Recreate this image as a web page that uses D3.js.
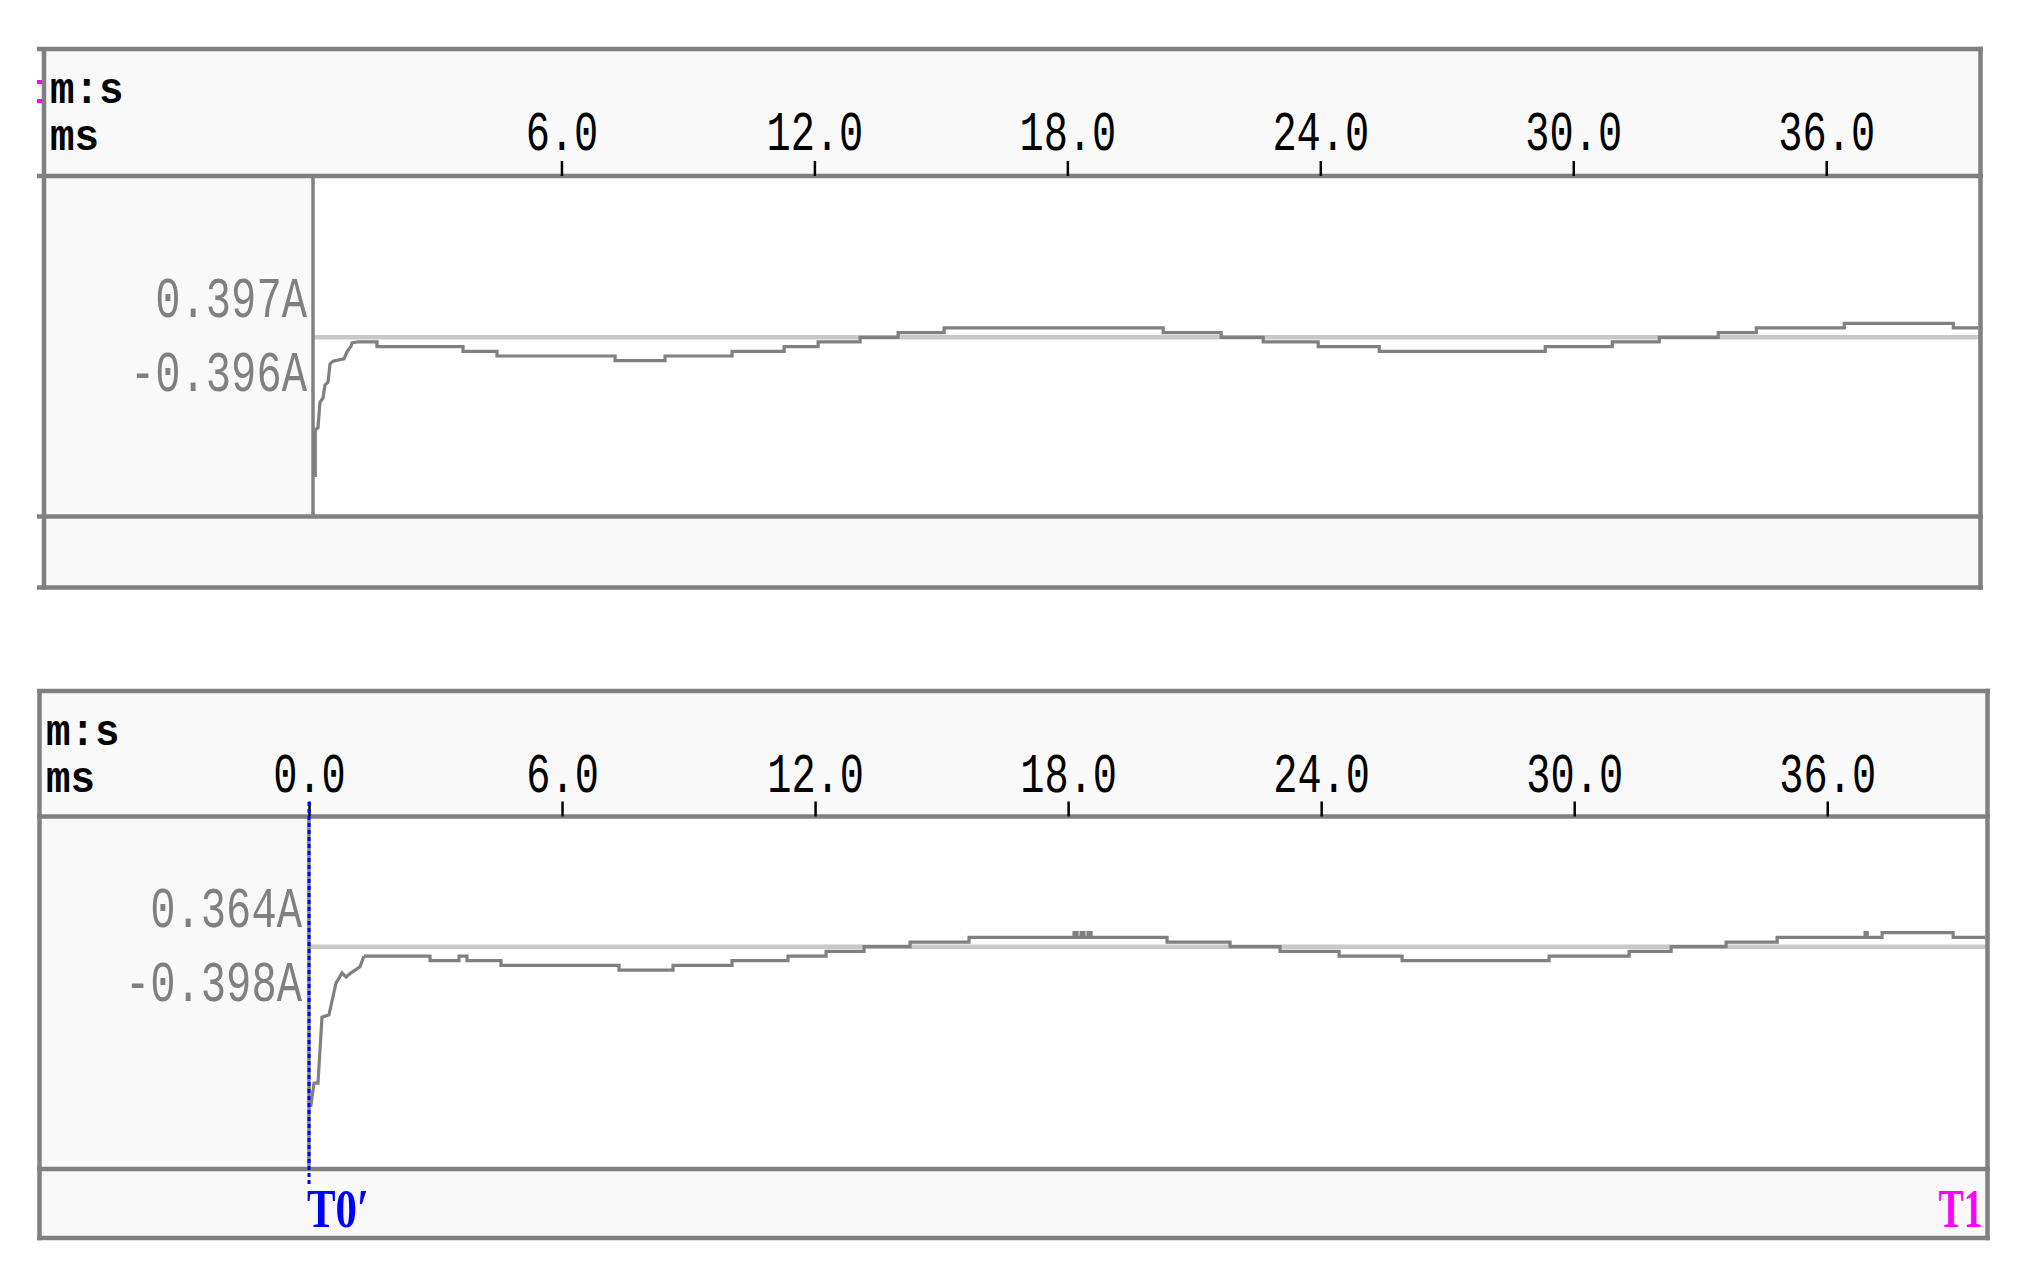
<!DOCTYPE html>
<html>
<head>
<meta charset="utf-8">
<script src="https://cdn.jsdelivr.net/npm/d3@7"></script>
<style>
body { margin: 0; background: #fff; }
svg { display: block; }
</style>
</head>
<body>
<svg id="canvas" width="2019" height="1272"></svg>
<script>
// time axis ticks (ms)
var top_ticks = [6, 12, 18, 24, 30, 36];
var bottom_ticks = [0, 6, 12, 18, 24, 30, 36];

var unit_labels = ['m:s', 'ms'];
var top_labels = ['0.397A', '-0.396A'];
var bottom_labels = ['0.364A', '-0.398A'];
var cursor_labels = ['T0\u2032', 'T1'];

// reference level of each channel (A)
var top_ref = 0.397;
var bottom_ref = 0.398;

// channel 1: start-up transient, then stepped trace
var top_rise_ms = [0.160, 0.160, 0.225, 0.273, 0.344, 0.391, 0.463, 0.510, 0.581, 0.842, 0.913, 1.008, 1.032, 1.151];
var top_rise_a = [0.3671, 0.3772, 0.3776, 0.3831, 0.3840, 0.3868, 0.3874, 0.3913, 0.3919, 0.3924, 0.3939, 0.3951, 0.3958, 0.3960];
var top_step_ms = [1.151, 1.625, 3.665, 4.472, 7.272, 8.458, 10.047, 11.281, 12.088, 13.084, 13.986, 15.077, 20.273, 21.649, 22.645, 23.950, 25.397, 29.336, 30.925, 32.040, 33.440, 34.342, 36.429, 39.015, 39.608];
var top_step_a = [0.396, 0.395, 0.394, 0.393, 0.392, 0.393, 0.394, 0.395, 0.396, 0.397, 0.398, 0.399, 0.398, 0.397, 0.396, 0.395, 0.394, 0.395, 0.396, 0.397, 0.398, 0.399, 0.400, 0.399, 0.399];

// channel 2
var bottom_rise_ms = [0.040, 0.119, 0.213, 0.308, 0.474, 0.640, 0.783, 0.877, 0.996, 1.209, 1.304];
var bottom_rise_a = [0.3637, 0.3688, 0.3688, 0.3829, 0.3834, 0.3902, 0.3924, 0.3915, 0.3924, 0.3937, 0.3960];
var bottom_step_ms = [1.304, 2.869, 3.557, 3.747, 4.553, 7.351, 8.632, 10.031, 11.359, 12.260, 13.161, 14.252, 15.651, 18.141, 18.212, 18.307, 18.378, 18.473, 18.544, 20.346, 21.840, 23.026, 24.425, 25.919, 29.405, 31.302, 32.298, 33.602, 34.812, 36.898, 36.946, 37.300, 38.985, 39.744];
var bottom_step_a = [0.396, 0.395, 0.396, 0.395, 0.394, 0.393, 0.394, 0.395, 0.396, 0.397, 0.398, 0.399, 0.400, 0.401, 0.400, 0.401, 0.400, 0.401, 0.400, 0.399, 0.398, 0.397, 0.396, 0.395, 0.396, 0.397, 0.398, 0.399, 0.400, 0.401, 0.400, 0.401, 0.400, 0.400];

var GRID = '#808080';
var PANEL_BG = '#f9f9f9';
var MONO = '"Liberation Mono", "DejaVu Sans Mono", monospace';
var SERIF = '"Liberation Serif", "DejaVu Serif", serif';

draw_chart();

function draw_chart(){
    var canvas = d3.select('#canvas');

    var top_panel = {
	line_left: 37, left: 44, right: 1980.5, top: 49, header_bottom: 176, plot_bottom: 516.5, bottom: 587.5,
	x0: 308.5, x_max: 39.66, divider_ms: 0.107, y_domain: [0.358627, 0.431540], label_right: 307,
	unit_x: 50, unit_base: [103, 150], tick_base: 150
    };
    var bottom_panel = {
	line_left: 37, left: 39.5, right: 1987.5, top: 691, header_bottom: 816.5, plot_bottom: 1169, bottom: 1238,
	x0: 309, x_max: 39.80, divider_ms: 0, y_domain: [0.35040, 0.42588], label_right: 302,
	unit_x: 46, unit_base: [745, 792], tick_base: 792
    };

    draw_panel(canvas.append('g'), top_panel, top_ticks, top_labels, top_ref,
	       d3.zip(top_rise_ms, top_rise_a), d3.zip(top_step_ms, top_step_a));
    var s2 = draw_panel(canvas.append('g'), bottom_panel, bottom_ticks, bottom_labels, bottom_ref,
			d3.zip(bottom_rise_ms, bottom_rise_a), d3.zip(bottom_step_ms, bottom_step_a));

    // magenta cursor marks at top-left
    canvas.append('rect').attr('x', 37).attr('y', 80).attr('width', 5).attr('height', 4).attr('fill', '#ff00ff');
    canvas.append('rect').attr('x', 37).attr('y', 99).attr('width', 5).attr('height', 4).attr('fill', '#ff00ff');

    draw_cursors(canvas, bottom_panel, s2.x_scale);
}

function draw_panel(g, p, ticks, labels, ref, rise, steps){
    var x_scale = d3.scaleLinear().domain([0, p.x_max]).range([p.x0, p.right]);
    var y_scale = d3.scaleLinear().domain(p.y_domain).range([p.plot_bottom, p.header_bottom]);
    var divider = x_scale(p.divider_ms);

    // backgrounds
    g.append('rect').attr('x', p.left).attr('y', p.top).attr('width', p.right - p.left).attr('height', p.bottom - p.top).attr('fill', PANEL_BG);
    g.append('rect').attr('x', divider).attr('y', p.header_bottom).attr('width', p.right - divider).attr('height', p.plot_bottom - p.header_bottom).attr('fill', '#fff');

    // reference line
    g.append('line')
	.attr('x1', divider).attr('x2', p.right)
	.attr('y1', y_scale(ref)).attr('y2', y_scale(ref))
	.attr('stroke', '#c8c8c8').attr('stroke-width', 4.5);

    // frame and separators
    var hlines = [p.top, p.header_bottom, p.plot_bottom, p.bottom];
    g.selectAll('.hline').data(hlines).enter().append('line')
	.attr('class', 'hline')
	.attr('x1', p.line_left).attr('x2', p.right + 2.5)
	.attr('y1', function(d){return d}).attr('y2', function(d){return d})
	.attr('stroke', GRID).attr('stroke-width', 4.5);
    g.append('line').attr('x1', p.left).attr('x2', p.left).attr('y1', p.top).attr('y2', p.bottom + 2.2)
	.attr('stroke', GRID).attr('stroke-width', 4.5);
    g.append('line').attr('x1', p.right).attr('x2', p.right).attr('y1', p.top - 2.2).attr('y2', p.bottom + 2.2)
	.attr('stroke', GRID).attr('stroke-width', 4.5);
    g.append('line').attr('x1', divider).attr('x2', divider).attr('y1', p.header_bottom).attr('y2', p.plot_bottom)
	.attr('stroke', GRID).attr('stroke-width', 3.5);

    // trace
    var rise_line = d3.line().x(function(d){return x_scale(d[0])}).y(function(d){return y_scale(d[1])});
    var step_line = d3.line().curve(d3.curveStepAfter).x(function(d){return x_scale(d[0])}).y(function(d){return y_scale(d[1])});
    g.append('path').datum(rise)
	.attr('d', rise_line)
	.attr('fill', 'none').attr('stroke', GRID).attr('stroke-width', 3.2);
    g.append('path').datum(steps)
	.attr('d', step_line)
	.attr('fill', 'none').attr('stroke', GRID).attr('stroke-width', 3.2);

    // time axis in the header
    var axis = g.append('g')
	.attr('transform', 'translate(0,' + p.header_bottom + ')')
	.call(d3.axisTop(x_scale).tickValues(ticks).tickSize(15).tickPadding(p.header_bottom - p.tick_base - 15)
	      .tickFormat(function(t){return t.toFixed(1)}));
    axis.select('.domain').remove();
    axis.attr('color', '#000').attr('font-family', MONO).attr('font-size', 56);
    axis.selectAll('.tick line').attr('stroke-width', 2.5);
    axis.selectAll('.tick text')
	.attr('dy', 0)
	.attr('textLength', function(t){return t.toFixed(1).length * 24.2})
	.attr('lengthAdjust', 'spacingAndGlyphs');

    // unit labels
    g.selectAll('.unit').data(unit_labels).enter().append('text')
	.attr('class', 'unit')
	.attr('x', p.unit_x)
	.attr('y', function(d, i){return p.unit_base[i]})
	.attr('font-family', MONO).attr('font-size', 45).attr('font-weight', 'bold')
	.attr('textLength', function(d){return d.length * 24.5})
	.attr('lengthAdjust', 'spacingAndGlyphs')
	.text(function(d){return d});

    // channel value labels
    var ref_y = y_scale(ref);
    g.selectAll('.val').data(labels).enter().append('text')
	.attr('class', 'val')
	.attr('x', p.label_right)
	.attr('y', function(d, i){return i == 0 ? ref_y - 20 : ref_y + 54})
	.attr('text-anchor', 'end')
	.attr('fill', GRID)
	.attr('font-family', MONO).attr('font-size', 58)
	.attr('textLength', function(d){return d.length * 25.3})
	.attr('lengthAdjust', 'spacingAndGlyphs')
	.text(function(d){return d});

    return {x_scale: x_scale, y_scale: y_scale};
}

function draw_cursors(canvas, p, x_scale){
    var cx = x_scale(0);
    canvas.append('line')
	.attr('x1', cx).attr('x2', cx).attr('y1', 802).attr('y2', 1186)
	.attr('stroke', '#0000ff').attr('stroke-width', 3)
	.attr('stroke-dasharray', '4,3');
    canvas.append('text')
	.attr('x', cx - 2).attr('y', 1227)
	.attr('fill', '#0000ff')
	.attr('font-family', SERIF).attr('font-size', 54).attr('font-weight', 'bold')
	.attr('textLength', 62).attr('lengthAdjust', 'spacingAndGlyphs')
	.text(cursor_labels[0]);
    canvas.append('text')
	.attr('x', p.right - 5).attr('y', 1227)
	.attr('text-anchor', 'end')
	.attr('fill', '#ff00ff')
	.attr('font-family', SERIF).attr('font-size', 54).attr('font-weight', 'bold')
	.attr('textLength', 44).attr('lengthAdjust', 'spacingAndGlyphs')
	.text(cursor_labels[1]);
}
</script>
</body>
</html>
